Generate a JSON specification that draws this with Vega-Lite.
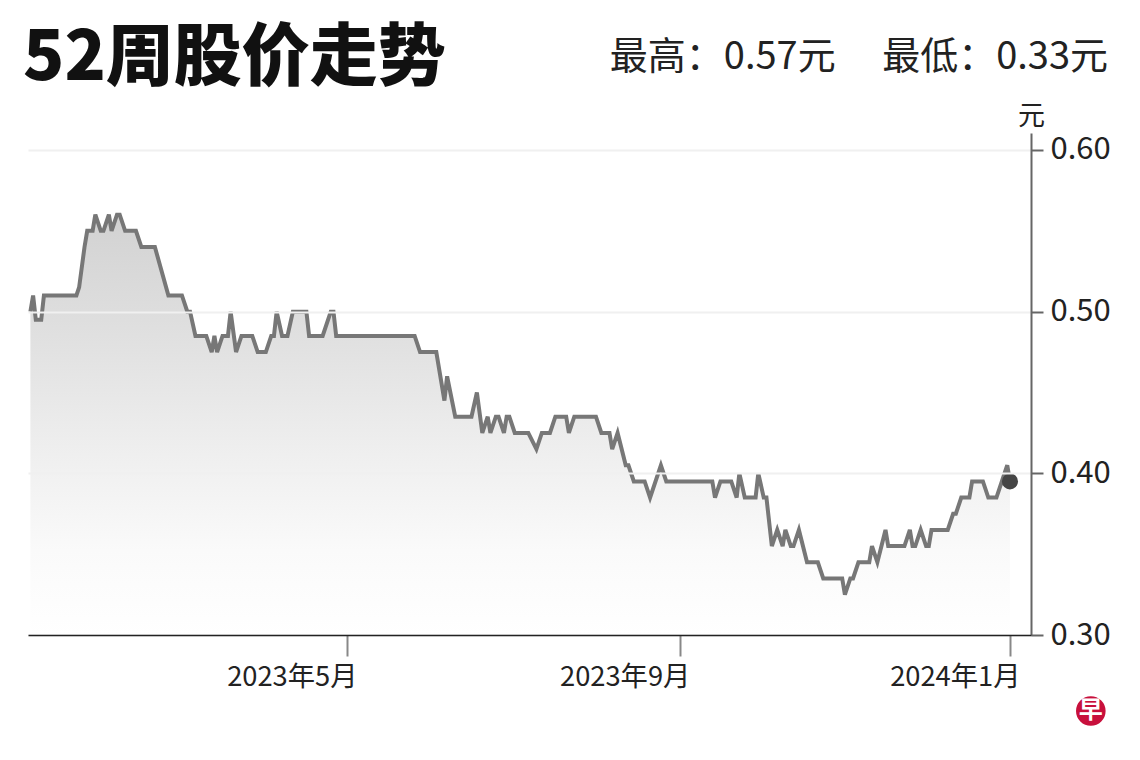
{
  "$schema": "https://vega.github.io/schema/vega-lite/v6.json",
  "width": 1003,
  "height": 502,
  "autosize": "none",
  "padding": {"left": 28, "top": 133, "right": 109, "bottom": 125},
  "background": "#ffffff",
  "config": {"view": {"stroke": null}, "font": "Noto Sans CJK SC"},
  "title": {
    "text": "52周股价走势",
    "font": "Noto Sans CJK SC",
    "fontSize": 68,
    "fontWeight": 900,
    "color": "#111111",
    "anchor": "start",
    "frame": "group",
    "dx": -5,
    "baseline": "alphabetic",
    "offset": -109
  },
  "datasets": {
    "prices": [
      {"date": "2023-01-04", "price": 0.5},
      {"date": "2023-01-05", "price": 0.51},
      {"date": "2023-01-06", "price": 0.495},
      {"date": "2023-01-08", "price": 0.495},
      {"date": "2023-01-09", "price": 0.51},
      {"date": "2023-01-21", "price": 0.51},
      {"date": "2023-01-22", "price": 0.515},
      {"date": "2023-01-24", "price": 0.54},
      {"date": "2023-01-25", "price": 0.55},
      {"date": "2023-01-27", "price": 0.55},
      {"date": "2023-01-28", "price": 0.56},
      {"date": "2023-01-30", "price": 0.55},
      {"date": "2023-01-31", "price": 0.55},
      {"date": "2023-02-02", "price": 0.56},
      {"date": "2023-02-03", "price": 0.55},
      {"date": "2023-02-05", "price": 0.56},
      {"date": "2023-02-06", "price": 0.56},
      {"date": "2023-02-08", "price": 0.55},
      {"date": "2023-02-12", "price": 0.55},
      {"date": "2023-02-14", "price": 0.54},
      {"date": "2023-02-19", "price": 0.54},
      {"date": "2023-02-24", "price": 0.51},
      {"date": "2023-03-01", "price": 0.51},
      {"date": "2023-03-03", "price": 0.5},
      {"date": "2023-03-04", "price": 0.5},
      {"date": "2023-03-06", "price": 0.485},
      {"date": "2023-03-10", "price": 0.485},
      {"date": "2023-03-12", "price": 0.475},
      {"date": "2023-03-13", "price": 0.485},
      {"date": "2023-03-14", "price": 0.475},
      {"date": "2023-03-16", "price": 0.485},
      {"date": "2023-03-18", "price": 0.485},
      {"date": "2023-03-19", "price": 0.5},
      {"date": "2023-03-21", "price": 0.475},
      {"date": "2023-03-23", "price": 0.485},
      {"date": "2023-03-27", "price": 0.485},
      {"date": "2023-03-29", "price": 0.475},
      {"date": "2023-04-01", "price": 0.475},
      {"date": "2023-04-03", "price": 0.485},
      {"date": "2023-04-04", "price": 0.485},
      {"date": "2023-04-05", "price": 0.5},
      {"date": "2023-04-07", "price": 0.485},
      {"date": "2023-04-09", "price": 0.485},
      {"date": "2023-04-11", "price": 0.5},
      {"date": "2023-04-16", "price": 0.5},
      {"date": "2023-04-17", "price": 0.485},
      {"date": "2023-04-22", "price": 0.485},
      {"date": "2023-04-25", "price": 0.5},
      {"date": "2023-04-26", "price": 0.5},
      {"date": "2023-04-27", "price": 0.485},
      {"date": "2023-05-26", "price": 0.485},
      {"date": "2023-05-28", "price": 0.475},
      {"date": "2023-06-03", "price": 0.475},
      {"date": "2023-06-06", "price": 0.445},
      {"date": "2023-06-07", "price": 0.46},
      {"date": "2023-06-10", "price": 0.435},
      {"date": "2023-06-16", "price": 0.435},
      {"date": "2023-06-18", "price": 0.45},
      {"date": "2023-06-20", "price": 0.425},
      {"date": "2023-06-22", "price": 0.435},
      {"date": "2023-06-23", "price": 0.425},
      {"date": "2023-06-25", "price": 0.435},
      {"date": "2023-06-26", "price": 0.435},
      {"date": "2023-06-28", "price": 0.425},
      {"date": "2023-06-29", "price": 0.435},
      {"date": "2023-06-30", "price": 0.435},
      {"date": "2023-07-02", "price": 0.425},
      {"date": "2023-07-07", "price": 0.425},
      {"date": "2023-07-10", "price": 0.415},
      {"date": "2023-07-12", "price": 0.425},
      {"date": "2023-07-15", "price": 0.425},
      {"date": "2023-07-17", "price": 0.435},
      {"date": "2023-07-21", "price": 0.435},
      {"date": "2023-07-22", "price": 0.425},
      {"date": "2023-07-24", "price": 0.435},
      {"date": "2023-08-01", "price": 0.435},
      {"date": "2023-08-03", "price": 0.425},
      {"date": "2023-08-06", "price": 0.425},
      {"date": "2023-08-07", "price": 0.415},
      {"date": "2023-08-09", "price": 0.425},
      {"date": "2023-08-12", "price": 0.405},
      {"date": "2023-08-13", "price": 0.405},
      {"date": "2023-08-15", "price": 0.395},
      {"date": "2023-08-19", "price": 0.395},
      {"date": "2023-08-21", "price": 0.385},
      {"date": "2023-08-25", "price": 0.405},
      {"date": "2023-08-27", "price": 0.395},
      {"date": "2023-09-13", "price": 0.395},
      {"date": "2023-09-14", "price": 0.385},
      {"date": "2023-09-16", "price": 0.395},
      {"date": "2023-09-20", "price": 0.395},
      {"date": "2023-09-22", "price": 0.385},
      {"date": "2023-09-23", "price": 0.4},
      {"date": "2023-09-25", "price": 0.385},
      {"date": "2023-09-29", "price": 0.385},
      {"date": "2023-09-30", "price": 0.4},
      {"date": "2023-10-02", "price": 0.385},
      {"date": "2023-10-03", "price": 0.385},
      {"date": "2023-10-05", "price": 0.355},
      {"date": "2023-10-07", "price": 0.365},
      {"date": "2023-10-09", "price": 0.355},
      {"date": "2023-10-10", "price": 0.365},
      {"date": "2023-10-12", "price": 0.355},
      {"date": "2023-10-13", "price": 0.355},
      {"date": "2023-10-15", "price": 0.365},
      {"date": "2023-10-18", "price": 0.345},
      {"date": "2023-10-22", "price": 0.345},
      {"date": "2023-10-24", "price": 0.335},
      {"date": "2023-10-31", "price": 0.335},
      {"date": "2023-11-01", "price": 0.325},
      {"date": "2023-11-03", "price": 0.335},
      {"date": "2023-11-04", "price": 0.335},
      {"date": "2023-11-06", "price": 0.345},
      {"date": "2023-11-10", "price": 0.345},
      {"date": "2023-11-11", "price": 0.355},
      {"date": "2023-11-13", "price": 0.345},
      {"date": "2023-11-16", "price": 0.365},
      {"date": "2023-11-17", "price": 0.355},
      {"date": "2023-11-23", "price": 0.355},
      {"date": "2023-11-25", "price": 0.365},
      {"date": "2023-11-26", "price": 0.355},
      {"date": "2023-11-27", "price": 0.355},
      {"date": "2023-11-29", "price": 0.365},
      {"date": "2023-12-01", "price": 0.355},
      {"date": "2023-12-02", "price": 0.355},
      {"date": "2023-12-03", "price": 0.365},
      {"date": "2023-12-09", "price": 0.365},
      {"date": "2023-12-11", "price": 0.375},
      {"date": "2023-12-12", "price": 0.375},
      {"date": "2023-12-14", "price": 0.385},
      {"date": "2023-12-17", "price": 0.385},
      {"date": "2023-12-18", "price": 0.395},
      {"date": "2023-12-22", "price": 0.395},
      {"date": "2023-12-24", "price": 0.385},
      {"date": "2023-12-27", "price": 0.385},
      {"date": "2023-12-29", "price": 0.395},
      {"date": "2023-12-31", "price": 0.405},
      {"date": "2024-01-01", "price": 0.395}
    ],
    "summary": [{"label": "最高：0.57元　 最低：0.33元"}],
    "logo": [{"mark": "早"}]
  },
  "layer": [
    {
      "data": {"name": "prices"},
      "mark": {
        "type": "area",
        "color": {
          "gradient": "linear",
          "x1": 0, "y1": 0, "x2": 0, "y2": 1,
          "stops": [
            {"offset": 0, "color": "#d2d2d2"},
            {"offset": 0.25, "color": "#dedede"},
            {"offset": 0.55, "color": "#eeeeee"},
            {"offset": 0.8, "color": "#fafafa"},
            {"offset": 1, "color": "#ffffff"}
          ]
        }
      },
      "encoding": {
        "x": {
          "field": "date",
          "type": "temporal",
          "scale": {"type": "utc", "domain": [{"year": 2023, "month": 1, "date": 3, "hours": 2, "minutes": 44, "utc": true}, {"year": 2024, "month": 1, "date": 8, "hours": 18, "minutes": 30, "utc": true}]},
          "axis": {
            "title": null,
            "zindex": 2,
            "values": [{"year": 2023, "month": 5, "date": 1, "utc": true}, {"year": 2023, "month": 9, "date": 1, "utc": true}, {"year": 2024, "month": 1, "date": 1, "utc": true}],
            "labelExpr": "utcFormat(datum.value, '%Y年%-m月')",
            "labelFont": "Noto Sans CJK SC",
            "labelFontSize": 27.3,
            "labelColor": "#222222",
            "labelAlign": "right",
            "labelOffset": 10,
            "labelPadding": 7,
            "labelOverlap": false,
            "labelFlush": false,
            "tickSize": 21,
            "tickColor": "#888888",
            "tickWidth": 2,
            "domainColor": "#222222",
            "domainWidth": 1.5,
            "grid": false
          }
        },
        "y": {
          "field": "price",
          "type": "quantitative",
          "scale": {"domain": [0.3, 0.6105], "zero": false, "nice": false},
          "axis": {
            "orient": "right",
            "values": [0.3, 0.4, 0.5, 0.6],
            "format": ".2f",
            "labelFont": "Noto Sans CJK SC",
            "labelFontSize": 31,
            "labelColor": "#222222",
            "labelPadding": 7,
            "tickSize": 12,
            "tickColor": "#666666",
            "tickWidth": 2,
            "domainColor": "#666666",
            "domainWidth": 2,
            "grid": true,
            "gridColor": "#f0f0f0",
            "gridWidth": 2,
            "zindex": 1,
            "title": "元",
            "titleFont": "Noto Sans CJK SC",
            "titleFontSize": 27,
            "titleFontWeight": "normal",
            "titleColor": "#222222",
            "titleAngle": 0,
            "titleAlign": "center",
            "titleBaseline": "alphabetic",
            "titleX": 0,
            "titleY": -9
          }
        },
        "y2": {"datum": 0.3}
      }
    },
    {
      "data": {"name": "prices"},
      "mark": {"type": "line", "color": "#777777", "strokeWidth": 4, "strokeJoin": "miter"},
      "encoding": {
        "x": {"field": "date", "type": "temporal"},
        "y": {"field": "price", "type": "quantitative"}
      }
    },
    {
      "data": {"name": "prices"},
      "transform": [{"filter": "utcyear(toDate(datum.date)) === 2024"}],
      "mark": {"type": "point", "filled": true, "color": "#454545", "opacity": 1, "size": 260},
      "encoding": {
        "x": {"field": "date", "type": "temporal"},
        "y": {"field": "price", "type": "quantitative"}
      }
    },
    {
      "data": {"name": "summary"},
      "mark": {"type": "text", "font": "Noto Sans CJK SC", "fontSize": 38, "color": "#222222", "align": "right", "baseline": "middle"},
      "encoding": {
        "x": {"datum": {"year": 2024, "month": 2, "date": 6, "hours": 5, "minutes": 30, "utc": true}, "type": "temporal"},
        "y": {"datum": 0.6568, "type": "quantitative"},
        "text": {"field": "label"}
      }
    },
    {
      "data": {"name": "logo"},
      "mark": {"type": "point", "filled": true, "color": "#c8103c", "opacity": 1, "size": 876},
      "encoding": {
        "x": {"datum": {"year": 2024, "month": 1, "date": 30, "hours": 21, "utc": true}, "type": "temporal"},
        "y": {"datum": 0.253, "type": "quantitative"}
      }
    },
    {
      "data": {"name": "logo"},
      "mark": {"type": "text", "font": "Noto Sans CJK SC", "fontSize": 24, "fontWeight": "bold", "color": "#ffffff", "align": "center", "baseline": "middle"},
      "encoding": {
        "x": {"datum": {"year": 2024, "month": 1, "date": 30, "hours": 21, "utc": true}, "type": "temporal"},
        "y": {"datum": 0.253, "type": "quantitative"},
        "text": {"field": "mark"}
      }
    }
  ]
}
